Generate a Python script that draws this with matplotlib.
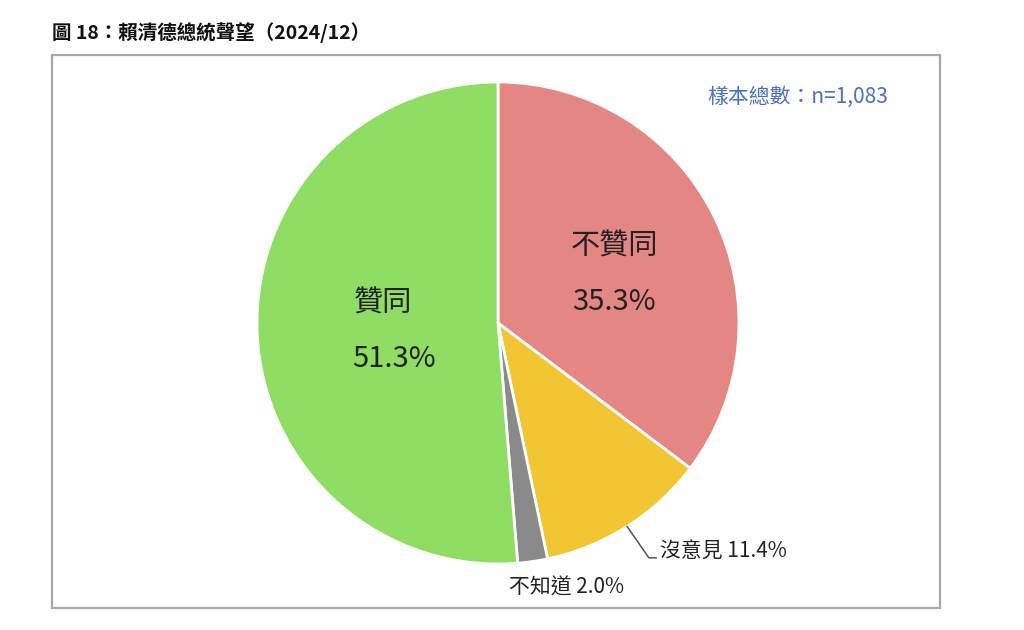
import numpy as np
import matplotlib.pyplot as plt
from matplotlib.patches import Rectangle

plt.rcParams['font.family'] = ['Noto Sans CJK TC', 'DejaVu Sans']

labels = ["不贊同", "沒意見", "不知道", "贊同"]
values = [35.3, 11.4, 2.0, 51.3]
colors = ["#E38684", "#F2C633", "#8A8A8A", "#8FDD63"]
title = "圖 18：賴清德總統聲望（2024/12）"
sample_note = "樣本總數：n=1,083"

W, H = 1024, 630
fig = plt.figure(figsize=(W / 100, H / 100), dpi=100)

# frame around the chart
fig.patches.append(Rectangle((52 / W, 1 - 608 / H), (940 - 52) / W, (608 - 55) / H,
                             transform=fig.transFigure, fill=False,
                             edgecolor="#A8A8A8", linewidth=1.6))
fig.text(52 / W, 1 - 33 / H, title, fontsize=14, fontweight="bold",
         color="#111111", va="center", ha="left")
fig.text(888 / W, 1 - 97 / H, sample_note, fontsize=15, fontweight="medium",
         color="#4A6FC8", va="center", ha="right")

# pie axes: center (498, 323), radius 241 px
r_px = 241
ax = fig.add_axes([(498 - r_px) / W, 1 - (323 + r_px) / H, 2 * r_px / W, 2 * r_px / H])
wedges, _ = ax.pie(values, colors=colors, startangle=90, counterclock=False,
                   radius=1.0, wedgeprops=dict(edgecolor="white", linewidth=2))
ax.set_xlim(-1, 1)
ax.set_ylim(-1, 1)
ax.set_aspect("equal")
ax.axis("off")

big = dict(fontsize=21, fontweight="medium", ha="center", va="center", color="#222222")
small = dict(fontsize=15, fontweight="medium", va="center", color="#222222")


def mid_point(w, r):
    a = np.deg2rad((w.theta1 + w.theta2) / 2)
    return r * np.cos(a), r * np.sin(a)


# big labels inside
x, y = mid_point(wedges[0], 0.55)
ax.text(x - 0.01, y + 0.07, labels[0], **big)
ax.text(x - 0.01, y - 0.16, f"{values[0]:.1f}%", **big)

x, y = mid_point(wedges[3], 0.46)
ax.text(x - 0.02, y + 0.10, labels[3], **big)
ax.text(x + 0.03, y - 0.13, f"{values[3]:.1f}%", **big)

# 沒意見 with leader line
x0, y0 = mid_point(wedges[1], 1.0)
ax.plot([x0, x0 + 0.09, x0 + 0.12], [y0, y0 - 0.13, y0 - 0.13], color="#555555", lw=1.1)
ax.text(x0 + 0.135, y0 - 0.10, f"{labels[1]} {values[1]:.1f}%", ha="left", **small)

# 不知道 below the pie
x, y = mid_point(wedges[2], 1.0)
ax.text(x + 0.14, y - 0.11, f"{labels[2]} {values[2]:.1f}%", ha="center",
        clip_on=False, **small)

fig.savefig("out.png", dpi=100)
